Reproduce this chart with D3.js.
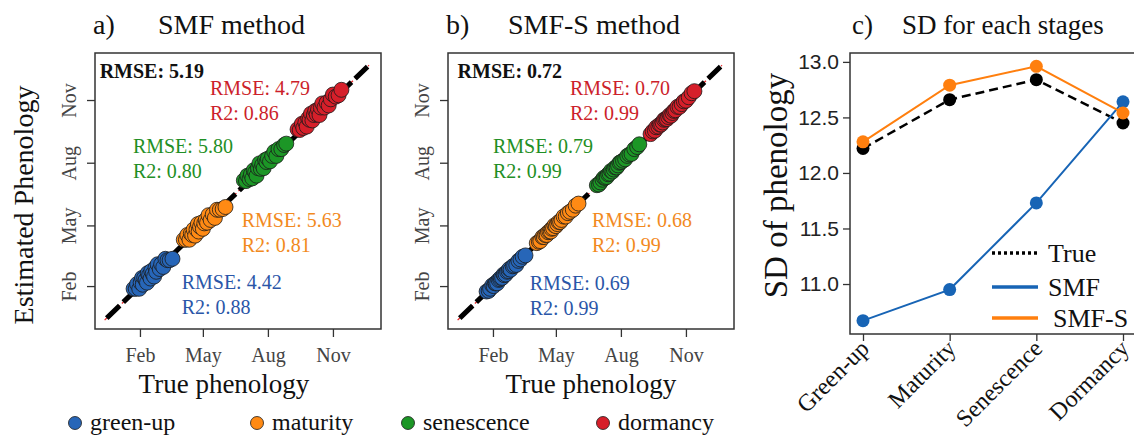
<!DOCTYPE html>
<html>
<head>
<meta charset="utf-8">
<script src="https://cdn.jsdelivr.net/npm/d3@7"></script>
<style>
  body { margin: 0; background: #fff; }
  svg { display: block; }
</style>
</head>
<body>
<svg id="chart" width="1134" height="438"></svg>
<script>
// ---- data ----
const monthTicks = [32, 121, 213, 305];          // day of year
const monthLabels = ['Feb', 'May', 'Aug', 'Nov'];
const stageNames = ['green-up', 'maturity', 'senescence', 'dormancy'];

// true day of year for each stage
const trueGreenup = [23, 26, 28, 31, 33, 35, 36, 38, 40, 42, 43, 45, 47, 48, 50, 52, 54, 55, 57, 60, 62, 65, 68, 71, 74, 78];
const trueMaturity = [94, 97, 99, 102, 104, 106, 108, 110, 112, 114, 115, 117, 119, 121, 123, 125, 127, 129, 132, 135, 138, 141, 145, 149, 153];
const trueSenescence = [179, 182, 184, 187, 189, 191, 193, 195, 197, 199, 201, 203, 205, 207, 209, 211, 213, 216, 219, 222, 225, 228, 232, 236, 239];
const trueDormancy = [255, 258, 261, 263, 266, 268, 270, 272, 274, 276, 278, 280, 282, 284, 286, 288, 290, 293, 296, 299, 302, 305, 309, 313, 317];

// estimated by SMF
const smfGreenup = [28, 28, 35, 28, 37, 44, 34, 44, 41, 37, 51, 48, 43, 54, 50, 46, 59, 53, 64, 57, 64, 60, 72, 70, 70, 72];
const smfMaturity = [100, 100, 107, 100, 109, 107, 115, 106, 115, 123, 112, 119, 125, 116, 124, 129, 125, 136, 129, 137, 132, 144, 144, 145, 148];
const smfSenescence = [187, 186, 194, 189, 196, 190, 202, 199, 194, 205, 212, 204, 210, 205, 217, 214, 219, 215, 223, 229, 223, 233, 233, 239, 241];
const smfDormancy = [262, 261, 270, 264, 272, 266, 278, 276, 285, 275, 283, 289, 284, 291, 283, 294, 300, 294, 301, 297, 306, 313, 310, 312, 320];

// estimated by SMF-S
const smfsGreenup = [24, 25, 28, 33, 32, 36, 36, 36, 41, 42, 44, 44, 49, 48, 49, 53, 54, 57, 56, 61, 62, 63, 69, 71, 75, 77];
const smfsMaturity = [95, 97, 98, 104, 104, 107, 107, 111, 112, 112, 116, 117, 121, 120, 123, 126, 126, 129, 134, 134, 139, 141, 144, 150, 153];
const smfsSenescence = [180, 181, 184, 188, 191, 191, 192, 196, 197, 201, 200, 203, 206, 206, 209, 213, 214, 216, 218, 223, 225, 226, 233, 236, 240];
const smfsDormancy = [255, 259, 260, 265, 266, 269, 269, 272, 276, 277, 277, 280, 283, 282, 286, 289, 290, 295, 295, 299, 303, 304, 309, 315, 318];

const smfRmse = ['4.42', '5.63', '5.80', '4.79'];
const smfR2 = ['0.88', '0.81', '0.80', '0.86'];
const smfsRmse = ['0.69', '0.68', '0.79', '0.70'];
const smfsR2 = ['0.99', '0.99', '0.99', '0.99'];
const overallRmse = ['5.19', '0.72'];

// panel c
const stages = ['Green-up', 'Maturity', 'Senescence', 'Dormancy'];
const sdTrue = [12.22, 12.66, 12.84, 12.45];
const sdSMF = [10.67, 10.95, 11.73, 12.64];
const sdSMFS = [12.28, 12.79, 12.96, 12.54];
const sdTicks = [11.0, 11.5, 12.0, 12.5, 13.0];

// ---- style / layout ----
const SERIF = '"Liberation Serif", "Times New Roman", serif';
const SANS = '"Liberation Sans", Arial, sans-serif';
const dotColors = ['#2766b8', '#ff8a14', '#1c9626', '#d61f2a'];
const textColors = ['#2a56a8', '#f28a1e', '#1f8f25', '#cc1f2b'];
const lineColors = { True: '#000', SMF: '#1764b5', 'SMF-S': '#ff7f0e' };

const svg = d3.select('#chart');
svg.append('rect').attr('width', 1134).attr('height', 438).attr('fill', '#fff');

const trueSets = [trueGreenup, trueMaturity, trueSenescence, trueDormancy];
const panels = [
  {
    key: 'a)', title: 'SMF method', left: 95, titleX: 158,
    est: [smfGreenup, smfMaturity, smfSenescence, smfDormancy],
    rmse: smfRmse, r2: smfR2, overall: overallRmse[0], yLabel: true,
    // annotation anchors in day-of-year units
    notes: [[91, 28], [176, 119], [22, 227], [131, 312]], overallAt: [-25, 337]
  },
  {
    key: 'b)', title: 'SMF-S method', left: 448, titleX: 508,
    est: [smfsGreenup, smfsMaturity, smfsSenescence, smfsDormancy],
    rmse: smfsRmse, r2: smfsR2, overall: overallRmse[1], yLabel: false,
    notes: [[84, 26], [172, 118], [32, 227], [141, 312]], overallAt: [-18, 337]
  }
];

const boxW = 286, boxTop = 53, boxBottom = 329;

panels.forEach(p => {
  const g = svg.append('g');
  const x = d3.scaleLinear().domain([-31.6, 373]).range([p.left, p.left + boxW]);
  const y = d3.scaleLinear().domain([-31, 374]).range([boxBottom, boxTop]);

  // title
  g.append('text').attr('x', p.left - 2).attr('y', 34)
    .attr('font-family', SERIF).attr('font-size', 28).attr('fill', '#111').text(p.key);
  g.append('text').attr('x', p.titleX).attr('y', 34)
    .attr('font-family', SERIF).attr('font-size', 28).attr('fill', '#111').text(p.title);

  // axes
  const xAxis = g.append('g').attr('transform', `translate(0,${boxBottom})`)
    .call(d3.axisBottom(x).tickValues(monthTicks).tickFormat((d, i) => monthLabels[i]).tickSize(8).tickPadding(6));
  const yAxis = g.append('g').attr('transform', `translate(${p.left},0)`)
    .call(d3.axisLeft(y).tickValues(monthTicks).tickFormat((d, i) => monthLabels[i]).tickSize(8));
  [xAxis, yAxis].forEach(a => {
    a.select('.domain').remove();
    a.selectAll('line').attr('stroke', '#333').attr('stroke-width', 1.3);
    a.selectAll('text').attr('font-family', SERIF).attr('font-size', 20).attr('fill', '#444');
  });
  xAxis.selectAll('text').attr('dy', '0.95em');
  yAxis.selectAll('text')
    .attr('transform', 'rotate(-90)')
    .attr('x', 0).attr('y', -19).attr('dy', 0)
    .attr('text-anchor', 'middle');

  // 1:1 line
  const diag = [-15, 354];
  g.append('line')
    .attr('x1', x(diag[0] - 3)).attr('y1', y(diag[0] - 3))
    .attr('x2', x(diag[1] + 2)).attr('y2', y(diag[1] + 2))
    .attr('stroke', '#e8282b').attr('stroke-width', 1.3).attr('stroke-dasharray', '3,3');
  g.append('line')
    .attr('x1', x(diag[0])).attr('y1', y(diag[0]))
    .attr('x2', x(diag[1])).attr('y2', y(diag[1]))
    .attr('stroke', '#000').attr('stroke-width', 5).attr('stroke-dasharray', '18,5');

  // points
  trueSets.forEach((tv, si) => {
    const pts = tv.map((t, i) => [t, p.est[si][i]]);
    g.append('g').selectAll('circle').data(pts).join('circle')
      .attr('cx', d => x(d[0])).attr('cy', d => y(d[1])).attr('r', 7.5)
      .attr('fill', dotColors[si]).attr('stroke', '#1a1a1a').attr('stroke-width', 0.8);
  });

  // box
  g.append('rect').attr('x', p.left).attr('y', boxTop)
    .attr('width', boxW).attr('height', boxBottom - boxTop)
    .attr('fill', 'none').attr('stroke', '#333').attr('stroke-width', 1.5);

  // annotations
  g.append('text').attr('x', x(p.overallAt[0])).attr('y', y(p.overallAt[1]))
    .attr('font-family', SERIF).attr('font-size', 20).attr('font-weight', 'bold')
    .attr('fill', '#111').text(`RMSE: ${p.overall}`);
  p.notes.forEach((n, si) => {
    const t = g.append('text').attr('x', x(n[0])).attr('y', y(n[1]))
      .attr('font-family', SERIF).attr('font-size', 20).attr('fill', textColors[si]);
    t.append('tspan').attr('x', x(n[0])).text(`RMSE: ${p.rmse[si]}`);
    t.append('tspan').attr('x', x(n[0])).attr('dy', 25).text(`R2: ${p.r2[si]}`);
  });

  // axis titles
  g.append('text').attr('x', p.left + boxW / 2 - (p.yLabel ? 14 : 0)).attr('y', 393)
    .attr('text-anchor', 'middle').attr('font-family', SERIF).attr('font-size', 27)
    .attr('fill', '#111').text('True phenology');
  if (p.yLabel) {
    g.append('text').attr('transform', 'translate(33,205) rotate(-90)')
      .attr('text-anchor', 'middle').attr('font-family', SERIF).attr('font-size', 28)
      .attr('fill', '#111').text('Estimated Phenology');
  }
});

// bottom legend
const legendX = [75, 257, 408, 603];
const lg = svg.append('g').selectAll('g').data(stageNames).join('g')
  .attr('transform', (d, i) => `translate(${legendX[i]},423)`);
lg.append('circle').attr('r', 6.5).attr('fill', (d, i) => dotColors[i])
  .attr('stroke', '#1a1a1a').attr('stroke-width', 0.8);
lg.append('text').attr('x', 15).attr('y', 7).attr('font-family', SERIF)
  .attr('font-size', 24).attr('fill', '#111').text(d => d);

// ---- panel c ----
const cLeft = 850, cRight = 1136, cTop = 53, cBottom = 334;
const gc = svg.append('g');
const xc = d3.scalePoint().domain(stages).range([cLeft, cRight]).padding(0.15);
const yc = d3.scaleLinear().domain([10.55, 13.08]).range([cBottom, cTop]);

gc.append('text').attr('x', 852).attr('y', 34).attr('font-family', SERIF)
  .attr('font-size', 27).attr('fill', '#111').text('c)');
gc.append('text').attr('x', 902).attr('y', 34).attr('font-family', SERIF)
  .attr('font-size', 27).attr('fill', '#111').text('SD for each stages');

const ycAxis = gc.append('g').attr('transform', `translate(${cLeft},0)`)
  .call(d3.axisLeft(yc).tickValues(sdTicks).tickFormat(d3.format('.1f')).tickSize(7).tickPadding(4));
ycAxis.selectAll('text').attr('font-family', SANS).attr('font-size', 21).attr('fill', '#222');
const xcAxis = gc.append('g').attr('transform', `translate(0,${cBottom})`)
  .call(d3.axisBottom(xc).tickSize(7));
xcAxis.selectAll('text')
  .attr('font-family', SERIF).attr('font-size', 24).attr('fill', '#111')
  .attr('text-anchor', 'end').attr('x', 7).attr('y', 16).attr('dy', 0)
  .attr('transform', 'rotate(-45 7 16)');
[ycAxis, xcAxis].forEach(a => {
  a.select('.domain').remove();
  a.selectAll('line').attr('stroke', '#333').attr('stroke-width', 1.3);
});

const series = [
  { name: 'True', values: sdTrue, dash: '9,5', legendDash: '3,3' },
  { name: 'SMF', values: sdSMF, dash: null, legendDash: null },
  { name: 'SMF-S', values: sdSMFS, dash: null, legendDash: null }
];
const line = d3.line().x((d, i) => xc(stages[i])).y(d => yc(d));
series.forEach(s => {
  gc.append('path').datum(s.values).attr('d', line)
    .attr('fill', 'none').attr('stroke', lineColors[s.name])
    .attr('stroke-width', s.name === 'True' ? 2.5 : 2)
    .attr('stroke-dasharray', s.dash);
  gc.append('g').selectAll('circle').data(s.values).join('circle')
    .attr('cx', (d, i) => xc(stages[i])).attr('cy', d => yc(d)).attr('r', 6.5)
    .attr('fill', lineColors[s.name]);
});

gc.append('rect').attr('x', cLeft).attr('y', cTop)
  .attr('width', cRight - cLeft).attr('height', cBottom - cTop)
  .attr('fill', 'none').attr('stroke', '#333').attr('stroke-width', 1.5);

gc.append('text').attr('transform', `translate(787,${(cTop + cBottom) / 2 - 8}) rotate(-90)`)
  .attr('text-anchor', 'middle').attr('font-family', SERIF).attr('font-size', 33)
  .attr('fill', '#111').text('SD of phenology');

// legend in panel c
const legRows = [253, 287, 318];
const cl = gc.append('g').selectAll('g').data(series).join('g')
  .attr('transform', (d, i) => `translate(992,${legRows[i]})`);
cl.append('line').attr('x1', 0).attr('x2', 46)
  .attr('stroke', d => lineColors[d.name]).attr('stroke-width', 3.5)
  .attr('stroke-dasharray', d => d.legendDash);
cl.append('text').attr('x', d => d.name === 'SMF-S' ? 61 : 56).attr('y', 9)
  .attr('font-family', SERIF).attr('font-size', 26).attr('fill', '#111').text(d => d.name);
</script>
</body>
</html>
